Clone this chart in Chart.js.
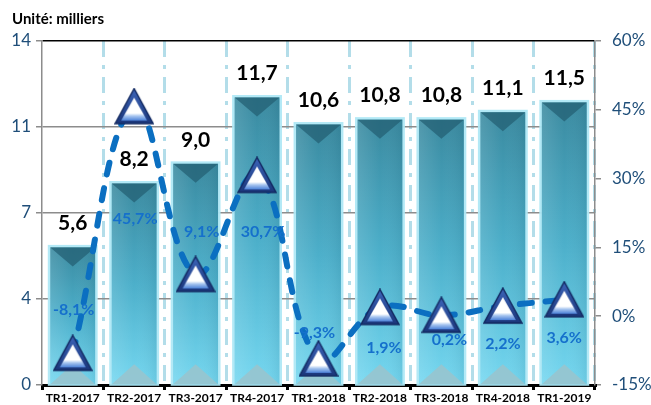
<!DOCTYPE html>
<html>
<head>
<meta charset="utf-8">
<script src="https://cdn.jsdelivr.net/npm/chart.js@4.4.0/dist/chart.umd.min.js"></script>
<style>
  html, body { margin: 0; padding: 0; background: #fff; overflow: hidden; }
</style>
</head>
<body>
<canvas id="graphique" width="651" height="405"></canvas>
<script>
const trimestres = ['TR1-2017', 'TR2-2017', 'TR3-2017', 'TR4-2017', 'TR1-2018', 'TR2-2018', 'TR3-2018', 'TR4-2018', 'TR1-2019'];
const valeurs = [5.6, 8.2, 9.0, 11.7, 10.6, 10.8, 10.8, 11.1, 11.5];
const variations = [-8.1, 45.7, 9.1, 30.7, -9.3, 1.9, 0.2, 2.2, 3.6];
const ticksGauche = ['0', '4', '7', '11', '14'];
const ticksDroite = ['-15%', '0%', '15%', '30%', '45%', '60%'];
const unite = 'Unité: milliers';

function fmt(v) {
    return v.toFixed(1).replace('.', ',');
}

// marqueur triangle bleu (contour foncé, centre blanc)
function creerTriangle() {
    const c = document.createElement('canvas');
    c.width = 40;
    c.height = 38;
    const g = c.getContext('2d');
    g.beginPath();
    g.moveTo(20, 1); g.lineTo(39, 36); g.lineTo(1, 36); g.closePath();
    const ext = g.createLinearGradient(0, 1, 0, 36);
    ext.addColorStop(0, '#3c64b8');
    ext.addColorStop(1, '#1b367a');
    g.fillStyle = ext;
    g.fill();
    g.strokeStyle = '#132a62';
    g.lineWidth = 1.5;
    g.stroke();
    g.beginPath();
    g.moveTo(20, 10); g.lineTo(33, 33); g.lineTo(7, 33); g.closePath();
    const int = g.createLinearGradient(0, 10, 0, 33);
    int.addColorStop(0, '#ffffff');
    int.addColorStop(0.68, '#ffffff');
    int.addColorStop(0.8, '#a8c6f0');
    int.addColorStop(1, '#4a80d8');
    g.fillStyle = int;
    g.fill();
    return c;
}

// les axes verticaux ne doivent pas réserver de marge pour leurs étiquettes
function sansMarge(s) {
    s.paddingTop = 0;
    s.paddingBottom = 0;
}

// décalage des étiquettes de pourcentage par rapport au point
const decalages = [[1, -44], [1, 112], [6, -43], [6, 56], [-4, -26], [4, 40], [8, 25], [0, 38], [0, 38]];

const decor = {
    id: 'decor',
    afterDatasetDraw(chart, args) {
        if (args.meta.type !== 'bar') return;
        const g = chart.ctx;
        args.meta.data.forEach((el, i) => {
            const { x, y, base, width } = el.getProps(['x', 'y', 'base', 'width'], true);
            const l = x - width / 2, r = x + width / 2, h = base - y;
            g.save();
            g.strokeStyle = 'rgba(175,232,246,0.95)';
            g.lineWidth = 3;
            g.strokeRect(l - 1, y - 1, width + 2, h + 1);

            const gr = g.createLinearGradient(0, y, 0, base);
            gr.addColorStop(0, '#3a8aa0');
            gr.addColorStop(0.5, '#4cafca');
            gr.addColorStop(1, '#74d7f0');
            g.fillStyle = gr;
            g.fillRect(l, y, width, h);

            const gh = g.createLinearGradient(l, 0, r, 0);
            gh.addColorStop(0, 'rgba(255,255,255,0.12)');
            gh.addColorStop(0.5, 'rgba(255,255,255,0)');
            gh.addColorStop(1, 'rgba(0,40,60,0.08)');
            g.fillStyle = gh;
            g.fillRect(l, y, width, h);

            g.beginPath();
            g.moveTo(l, y); g.lineTo(r, y); g.lineTo(x, y + 19); g.closePath();
            g.fillStyle = 'rgba(36,96,116,0.75)';
            g.fill();

            g.beginPath();
            g.moveTo(l, base); g.lineTo(r, base); g.lineTo(x, base - 20); g.closePath();
            g.fillStyle = 'rgba(152,196,206,0.9)';
            g.fill();

            g.fillStyle = '#000';
            g.font = 'bold 21px Lato';
            g.textAlign = 'center';
            g.textBaseline = 'middle';
            g.fillText(fmt(valeurs[i]), x, y - 24);
            g.restore();
        });
    },
    afterDatasetsDraw(chart) {
        const g = chart.ctx;
        const meta = chart.getDatasetMeta(0);
        g.save();
        g.fillStyle = '#1570cc';
        g.font = 'bold 16px Lato';
        g.textAlign = 'center';
        g.textBaseline = 'middle';
        meta.data.forEach((pt, i) => {
            const d = decalages[i];
            g.fillText(fmt(variations[i]) + '%', pt.x + d[0], pt.y + d[1]);
        });
        g.fillStyle = '#000';
        g.font = 'bold 15px Lato';
        g.textAlign = 'left';
        g.fillText(unite, 12, 19);
        g.restore();
    }
};

const ctx = document.getElementById('graphique').getContext('2d');
const graphique = new Chart(ctx, {
    type: 'bar',
    data: {
        labels: trimestres,
        datasets: [
            {
                type: 'line',
                data: variations,
                yAxisID: 'y1',
                order: 0,
                borderColor: '#0b6fc1',
                borderWidth: 6,
                borderDash: [12, 14],
                borderCapStyle: 'round',
                tension: 0.4,
                fill: false,
                pointStyle: creerTriangle(),
                pointRadius: 18
            },
            {
                type: 'bar',
                data: valeurs,
                yAxisID: 'y',
                order: 1,
                backgroundColor: '#4cafca',
                barPercentage: 0.73,
                categoryPercentage: 1
            }
        ]
    },
    options: {
        responsive: false,
        animation: false,
        layout: { autoPadding: false, padding: { top: 41, left: 0, right: 0, bottom: 0 } },
        plugins: {
            legend: { display: false },
            tooltip: { enabled: false }
        },
        scales: {
            x: {
                grid: {
                    offset: true,
                    color: c => c.index === 0 ? 'rgba(0,0,0,0)' : '#b3dde9',
                    lineWidth: 3,
                    tickColor: '#000',
                    tickLength: 5,
                    tickWidth: 3
                },
                border: { color: '#000', width: 3, dash: [16, 8, 4, 8] },
                ticks: {
                    color: '#000',
                    font: { family: 'Lato', weight: 'bold', size: 12 },
                    padding: 1,
                    maxRotation: 0,
                    autoSkip: false
                },
                afterFit: s => { s.height = 20; }
            },
            y: {
                position: 'left',
                min: 0,
                max: 14,
                ticks: {
                    stepSize: 3.5,
                    callback: (v, i) => ticksGauche[i],
                    color: '#1f4e79',
                    font: { family: 'Lato', size: 17 },
                    padding: 5
                },
                grid: {
                    color: c => c.tick && c.tick.value === 14 ? '#000' : '#8c8c8c',
                    lineWidth: 1.5,
                    tickLength: 6,
                    tickColor: '#8c8c8c'
                },
                border: { color: '#8c8c8c', width: 1.5 },
                afterFit: s => { s.width = 42; sansMarge(s); }
            },
            y1: {
                position: 'right',
                min: -15,
                max: 60,
                ticks: {
                    stepSize: 15,
                    callback: (v, i) => ticksDroite[i],
                    color: '#1f4e79',
                    font: { family: 'Lato', size: 17 },
                    padding: 11
                },
                grid: {
                    drawOnChartArea: false,
                    color: '#8c8c8c',
                    lineWidth: 1.5,
                    tickLength: 6
                },
                border: { color: '#8c8c8c', width: 1.5 },
                afterFit: s => { s.width = 56; sansMarge(s); }
            }
        }
    },
    plugins: [decor]
});
</script>
</body>
</html>
